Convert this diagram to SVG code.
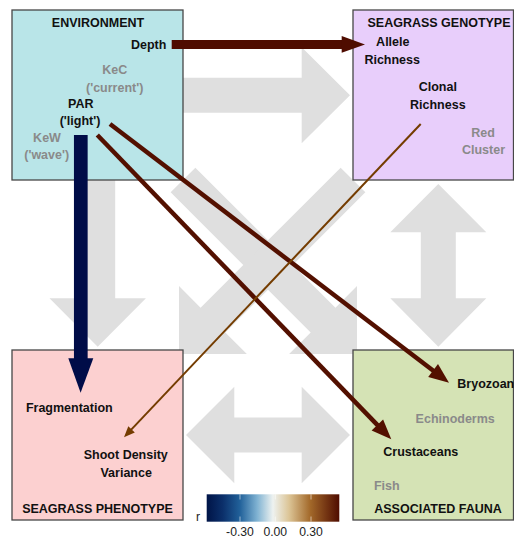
<svg xmlns="http://www.w3.org/2000/svg" width="514" height="540" viewBox="0 0 514 540">
<defs>
<linearGradient id="rbar" x1="0" y1="0" x2="1" y2="0">
<stop offset="0" stop-color="#001447"/>
<stop offset="0.12" stop-color="#0b2f6a"/>
<stop offset="0.25" stop-color="#21619a"/>
<stop offset="0.38" stop-color="#7fb2d2"/>
<stop offset="0.5" stop-color="#eef2f0"/>
<stop offset="0.62" stop-color="#dcc597"/>
<stop offset="0.78" stop-color="#a3692a"/>
<stop offset="1" stop-color="#4f0c00"/>
</linearGradient>
<style>
.bg{fill:#dfdfdf;stroke:none}
.box{stroke:#474747;stroke-width:1.3}
text{font-family:"Liberation Sans",Arial,sans-serif;font-size:12.5px;font-weight:bold;text-anchor:middle;fill:#111}
.g{fill:#8a8a8a}
.lab{font-weight:normal;font-size:12.2px;fill:#222}
.dk{stroke:#531000;fill:none}
.dkf{fill:#531000}
</style>
</defs>
<g id="background-arrows">
<polygon class="bg" points="183,77.8 301.7,77.8 301.7,47.3 350,95.3 301.7,143.3 301.7,112.8 183,112.8"/>
<polygon class="bg" points="80.2,180 115.2,180 115.2,298.3 145.9,298.3 97.7,346.7 49.5,298.3 80.2,298.3"/>
<polygon class="bg" points="438.3,184 486.3,232.3 455.8,232.3 455.8,298.3 486.3,298.3 438.3,346.7 390.3,298.3 420.8,298.3 420.8,232.3 390.3,232.3"/>
<polygon class="bg" points="186,435 234.3,386.7 234.3,417.5 301.7,417.5 301.7,386.7 350,435 301.7,483.3 301.7,452.5 234.3,452.5 234.3,483.3"/>
<polygon class="bg" points="195.37,167.63 335.43,307.69 357,286.12 357,354 289.12,354 310.69,332.43 170.63,192.37"/>
<polygon class="bg" points="340.63,167.63 200.57,307.69 179,286.12 179,354 246.88,354 225.31,332.43 365.37,192.37"/>
</g>
<g id="environment">
<rect class="box" x="12" y="10" width="171" height="170" fill="#b9e5e8"/>
<text x="98" y="26.5">ENVIRONMENT</text>
<text x="148.7" y="49">Depth</text>
<text class="g" x="114.7" y="74">KeC</text>
<text class="g" x="114.7" y="91.7">('current')</text>
<text x="80.8" y="108.3">PAR</text>
<text x="80" y="125">('light')</text>
<text class="g" x="47" y="141.7">KeW</text>
<text class="g" x="46.7" y="159.3">('wave')</text>
</g>
<g id="seagrass-genotype">
<rect class="box" x="353" y="10" width="160.5" height="170" fill="#e8cefb"/>
<text x="439" y="26.7">SEAGRASS GENOTYPE</text>
<text x="392.8" y="46">Allele</text>
<text x="392.2" y="64">Richness</text>
<text x="437.8" y="90.7">Clonal</text>
<text x="437.8" y="109">Richness</text>
<text class="g" x="483" y="136.7">Red</text>
<text class="g" x="483.5" y="154">Cluster</text>
</g>
<g id="seagrass-phenotype">
<rect class="box" x="12" y="350" width="171" height="170" fill="#fcd0d0"/>
<text x="69.3" y="411.7">Fragmentation</text>
<text x="125.8" y="459.3">Shoot Density</text>
<text x="126.2" y="476.7">Variance</text>
<text x="97.5" y="513.3">SEAGRASS PHENOTYPE</text>
</g>
<g id="associated-fauna">
<rect class="box" x="353" y="350" width="160.5" height="170" fill="#d5e3b5"/>
<text x="457.3" y="388.3" style="text-anchor:start">Bryozoan</text>
<text class="g" x="455.2" y="422.7">Echinoderms</text>
<text x="420.8" y="456">Crustaceans</text>
<text class="g" x="386.8" y="490">Fish</text>
<text x="438" y="512.7">ASSOCIATED FAUNA</text>
</g>
<g id="connectors">
<line x1="171.7" y1="44.5" x2="342.5" y2="44.5" stroke="#4f0c00" stroke-width="9"/>
<polygon points="341.7,36 365,44.4 341.7,52.8" fill="#4f0c00"/>
<line x1="80.8" y1="135" x2="80.8" y2="359" stroke="#000c48" stroke-width="13.7"/>
<polygon points="68.3,358.3 93.3,358.3 80.6,392.7" fill="#000c48"/>
<line class="dk" x1="110" y1="124" x2="434" y2="371.3" stroke-width="4.5"/>
<polygon class="dkf" points="428.2,376.9 449,382.7 438,363.9"/>
<line class="dk" x1="97.3" y1="135" x2="378" y2="425.6" stroke-width="4.5"/>
<polygon class="dkf" points="371.6,430.5 391.3,439.3 383.1,419.4"/>
<line x1="420.7" y1="124" x2="131" y2="429.9" stroke="#743c00" stroke-width="2"/>
<polygon points="128.3,426.2 124,437.3 134.8,432.4" fill="#743c00"/>
</g>
<g id="legend">
<rect x="206.7" y="494.3" width="132.6" height="27.4" fill="url(#rbar)"/>
<g stroke="#ffffff" stroke-width="0.8" opacity="0.7">
<line x1="240" y1="494.3" x2="240" y2="499.5"/><line x1="240" y1="516.5" x2="240" y2="521.7"/>
<line x1="275.3" y1="494.3" x2="275.3" y2="499.5"/><line x1="275.3" y1="516.5" x2="275.3" y2="521.7"/>
<line x1="311" y1="494.3" x2="311" y2="499.5"/><line x1="311" y1="516.5" x2="311" y2="521.7"/>
</g>
<text class="lab" x="198" y="521">r</text>
<text class="lab" x="240" y="535.5">-0.30</text>
<text class="lab" x="275.3" y="535.5">0.00</text>
<text class="lab" x="311" y="535.5">0.30</text>
</g>
</svg>
